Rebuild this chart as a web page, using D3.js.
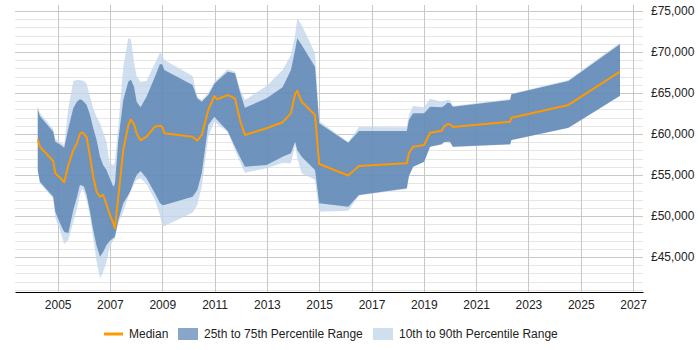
<!DOCTYPE html>
<html>
<head>
<meta charset="utf-8">
<script src="https://cdn.jsdelivr.net/npm/d3@7"></script>
<style>
  body { margin: 0; background: #fff; }
  svg { font-family: "Liberation Sans", Arial, sans-serif; }
</style>
</head>
<body>
<div id="chart"></div>
<script>
/*
  salary percentile chart, median with 25-75 and 10-90 bands
*/

// dates as fractional years
var dates = [2004.24, 2004.32, 2004.83, 2004.91, 2005.09, 2005.25, 2005.41, 2005.60, 2005.73, 2005.85,
  2005.93, 2006.01, 2006.11, 2006.24, 2006.36, 2006.49, 2006.62, 2006.74, 2006.87, 2006.99,
  2007.13, 2007.19, 2007.32, 2007.51, 2007.70, 2007.80, 2007.92, 2008.02, 2008.17, 2008.40,
  2008.72, 2008.91, 2009.00, 2009.08, 2010.16, 2010.34, 2010.51, 2010.76, 2010.99, 2011.10,
  2011.50, 2011.78, 2011.97, 2012.16, 2012.99, 2013.60, 2013.92, 2014.08, 2014.16, 2014.33,
  2014.84, 2015.00, 2016.11, 2016.52, 2018.35, 2018.43, 2018.59, 2019.01, 2019.24, 2019.68,
  2019.77, 2019.90, 2020.00, 2020.11, 2022.30, 2022.35, 2024.53, 2026.50];

var median = [59350, 58450, 56710, 55210, 54670, 54110, 56220, 58050, 58780, 60000,
  60210, 60000, 59600, 57200, 54790, 52960, 52350, 52560, 51380, 50240,
  49090, 48500, 52320, 58050, 61040, 61770, 61220, 60090, 59230, 59670,
  60890, 61010, 60890, 60090, 59670, 59180, 59880, 62930, 64630, 64230,
  64760, 64350, 61710, 59880, 60700, 61430, 62520, 64880, 65280, 63940,
  62320, 56340, 54940, 56100, 56430, 57650, 58450, 58660, 60160, 60400,
  60890, 61180, 61180, 60850, 61500, 61990, 63540, 67600];

var p25 = [55610, 54180, 52350, 50520, 49110, 48050, 47930, 50730, 52200, 53780,
  53720, 53570, 52560, 50490, 48290, 46340, 45040, 45610, 46460, 46950,
  47320, 47480, 49510, 51550, 52560, 53170, 54270, 55000, 55490, 54600,
  52770, 51590, 51340, 51340, 52350, 53170, 55210, 61100, 62110, 61710,
  60370, 58450, 57200, 56010, 56220, 57230, 57650, 59060, 58050, 57230,
  55610, 51550, 51130, 52560, 53380, 54880, 56010, 56620, 58450, 58740,
  59020, 59060, 59060, 58450, 58740, 59270, 60770, 64670];

var p75 = [63050, 62200, 60280, 59060, 58720, 58330, 60700, 63170, 63900, 64230,
  64150, 63900, 63540, 62320, 60730, 59270, 57230, 56220, 55610, 54630,
  53570, 53900, 59270, 64150, 66380, 66650, 65770, 63940, 63260, 64550,
  66990, 68540, 68480, 67800, 65980, 64350, 63940, 64760, 66100, 66460,
  67600, 67400, 65160, 63210, 64350, 65700, 67800, 70240, 71670, 70850,
  68210, 61310, 58940, 60370, 60370, 61710, 62520, 62520, 63330, 63260,
  63410, 63820, 63780, 63330, 64150, 64840, 66460, 70940];

var p10 = [55490, 53990, 52160, 49760, 48290, 46590, 47070, 49270, 50730, 52600,
  53290, 52930, 51950, 49920, 47320, 44390, 42400, 43170, 44390, 46220,
  47070, 47300, 49150, 50520, 52320, 53050, 53900, 54390, 54600, 53900,
  51950, 50120, 48780, 48780, 50400, 51340, 53570, 59670, 61500, 61220,
  60280, 58050, 56590, 55280, 55820, 56460, 56430, 58660, 57070, 55210,
  54390, 50520, 50650, 52500, 53290, 54820, 55980, 56590, 58410, 58710,
  58990, 59020, 59020, 58410, 58710, 59230, 60730, 64630];

var p90 = [63410, 62560, 60610, 59390, 59020, 58660, 63170, 66460, 66590, 66590,
  66520, 66460, 66100, 64550, 63170, 62070, 61310, 60240, 59020, 56460,
  56220, 56590, 60890, 68210, 71670, 71590, 68780, 67070, 66380, 66460,
  68620, 69910, 69630, 69020, 67070, 64510, 64150, 65000, 66340, 66710,
  67890, 67600, 65490, 64150, 65850, 67800, 69630, 72070, 74110, 73290,
  69840, 61590, 59020, 60850, 60820, 62320, 63410, 63260, 64300, 63940,
  64020, 64150, 64150, 63410, 64270, 64900, 66590, 71130];

var xTicks = [2005, 2007, 2009, 2011, 2013, 2015, 2017, 2019, 2021, 2023, 2025, 2027];
var yTicks = [45000, 50000, 55000, 60000, 65000, 70000, 75000];
var legendNames = ['Median', '25th to 75th Percentile Range', '10th to 90th Percentile Range'];

var rows = dates.map(function(d, i) {
  return {date: d, med: median[i], p25: p25[i], p75: p75[i], p10: p10[i], p90: p90[i]};
});

var width = 700, height = 350;
var margin = {top: 5, right: 57, bottom: 58, left: 15};

var svg = d3.select('#chart').append('svg')
  .attr('width', width)
  .attr('height', height);

var x = d3.scaleLinear()
  .domain([2003.37, 2027.38])
  .range([margin.left, width - margin.right]);

var y = d3.scaleLinear()
  .domain([40730, 75730])
  .range([height - margin.bottom, margin.top]);

// minor horizontal grid every 1000, major every 5000
var minor = d3.range(41000, 75001, 1000).filter(function(v) { return v % 5000 != 0; });
svg.append('g').selectAll('line')
  .data(minor)
  .enter().append('line')
  .attr('x1', margin.left)
  .attr('x2', width - margin.right)
  .attr('y1', function(d) { return Math.round(y(d)) + 0.5; })
  .attr('y2', function(d) { return Math.round(y(d)) + 0.5; })
  .attr('stroke', '#e6e6e6');

svg.append('g').selectAll('line')
  .data(yTicks)
  .enter().append('line')
  .attr('x1', margin.left)
  .attr('x2', width - margin.right)
  .attr('y1', function(d) { return Math.round(y(d)) + 0.5; })
  .attr('y2', function(d) { return Math.round(y(d)) + 0.5; })
  .attr('stroke', '#c8c8c8');

// vertical grid
svg.append('g').selectAll('line')
  .data(xTicks)
  .enter().append('line')
  .attr('x1', function(d) { return Math.round(x(d)) + 0.5; })
  .attr('x2', function(d) { return Math.round(x(d)) + 0.5; })
  .attr('y1', margin.top)
  .attr('y2', height - margin.bottom)
  .attr('stroke', '#c8c8c8');

// bands
var band90 = d3.area()
  .x(function(d) { return x(d.date); })
  .y0(function(d) { return y(d.p10); })
  .y1(function(d) { return y(d.p90); });

var band75 = d3.area()
  .x(function(d) { return x(d.date); })
  .y0(function(d) { return y(d.p25); })
  .y1(function(d) { return y(d.p75); });

svg.append('path')
  .datum(rows)
  .attr('d', band90)
  .attr('fill', '#c4d7ec')
  .attr('fill-opacity', 0.8);

svg.append('path')
  .datum(rows)
  .attr('d', band75)
  .attr('fill', '#4572a7')
  .attr('fill-opacity', 0.7);

// median line
var line = d3.line()
  .x(function(d) { return x(d.date); })
  .y(function(d) { return y(d.med); });

svg.append('path')
  .datum(rows)
  .attr('d', line)
  .attr('fill', 'none')
  .attr('stroke', '#ff9900')
  .attr('stroke-width', 2)
  .attr('stroke-linejoin', 'round');

// x axis
var xAxis = svg.append('g')
  .attr('transform', 'translate(0,' + (height - margin.bottom) + ')')
  .call(d3.axisBottom(x).tickValues(xTicks).tickFormat(d3.format('d')).tickSize(0).tickPadding(8));
xAxis.select('.domain').attr('stroke', '#000').attr('stroke-width', 1.2);
xAxis.selectAll('text').attr('font-size', 12).attr('fill', '#222')
  .attr('font-family', '"Liberation Sans", Arial, sans-serif');

// y axis on the right
var yAxis = svg.append('g')
  .attr('transform', 'translate(' + (width - margin.right) + ',0)')
  .call(d3.axisRight(y).tickValues(yTicks).tickFormat(function(d) { return '£' + d3.format(',')(d); })
    .tickSize(0).tickPadding(8));
yAxis.select('.domain').remove();
yAxis.selectAll('text').attr('font-size', 12).attr('fill', '#222')
  .attr('font-family', '"Liberation Sans", Arial, sans-serif');

// legend
var legend = svg.append('g').attr('transform', 'translate(0,334)');
legend.append('line')
  .attr('x1', 104).attr('x2', 123)
  .attr('stroke', '#ff9900').attr('stroke-width', 3);
legend.append('text').attr('x', 129).attr('y', 4).text(legendNames[0]);
legend.append('rect')
  .attr('x', 178).attr('y', -6).attr('width', 20).attr('height', 12)
  .attr('fill', '#88a6c7');
legend.append('text').attr('x', 204).attr('y', 4).text(legendNames[1]);
legend.append('rect')
  .attr('x', 373).attr('y', -6).attr('width', 20).attr('height', 12)
  .attr('fill', '#cfdfee');
legend.append('text').attr('x', 399).attr('y', 4).text(legendNames[2]);
legend.selectAll('text').attr('font-size', 12).attr('fill', '#222');
</script>
</body>
</html>
